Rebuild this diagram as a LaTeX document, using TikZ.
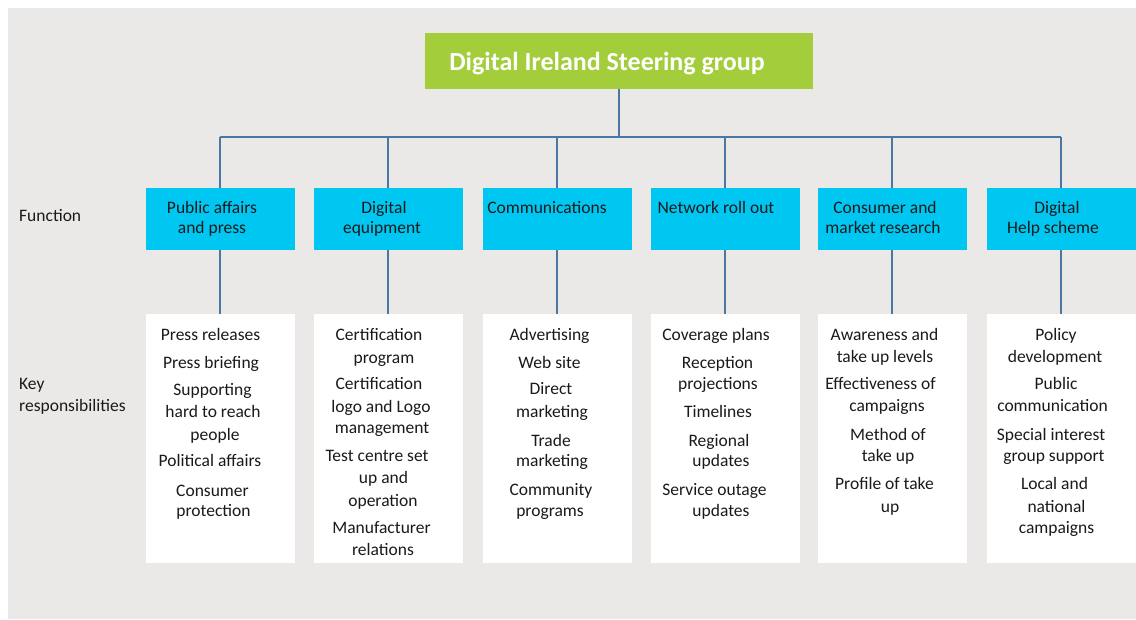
\documentclass[tikz,border=0pt]{standalone}
\usepackage{fontspec}
\setmainfont{Carlito}
\definecolor{bgc}{HTML}{EBE9E7}
\definecolor{greenc}{HTML}{A3CD3A}
\definecolor{cyanc}{HTML}{00C6F2}
\definecolor{linec}{HTML}{4D77A3}
\definecolor{textc}{HTML}{1A1A1A}
\begin{document}
\begin{tikzpicture}[x=1pt,y=-1pt,
  titlebox/.style={fill=greenc, draw=none, minimum width=388pt, minimum height=56pt, inner sep=0pt},
  titletext/.style={font=\bfseries\fontsize{26}{29}\selectfont, text=white, inner sep=0pt},
  fbox/.style={fill=cyanc, draw=none, minimum width=149pt, minimum height=62pt, inner sep=0pt},
  rbox/.style={fill=white, draw=none, minimum width=149pt, minimum height=249pt, inner sep=0pt},
  txt/.style={font=\fontsize{17.5}{20}\selectfont, text=textc, inner sep=0pt, anchor=base},
  conn/.style={draw=linec, line width=2pt}]
\useasboundingbox (0,0) rectangle (1136,619);
\fill[bgc] (8,8) rectangle (1136,619);

% title
\node[titlebox] (t) at (619,61) {};
\node[titletext, anchor=base] (tt) at (607,70) {Digital Ireland Steering group};

% function boxes
\node[fbox] (f1) at (220,219) {};
\node[fbox] (f2) at (388,219) {};
\node[fbox] (f3) at (557,219) {};
\node[fbox] (f4) at (725,219) {};
\node[fbox] (f5) at (892,219) {};
\node[fbox] (f6) at (1061,219) {};

% responsibility boxes
\node[rbox] (r1) at (220,438.5) {};
\node[rbox] (r2) at (388,438.5) {};
\node[rbox] (r3) at (557,438.5) {};
\node[rbox] (r4) at (725,438.5) {};
\node[rbox] (r5) at (892,438.5) {};
\node[rbox] (r6) at (1061,438.5) {};

% connectors
\coordinate (bus) at (619,137);
\draw[conn] (t.south) -- (t.south |- bus);
\draw[conn] (f1.north |- bus) -- (f6.north |- bus);
\foreach \i in {1,...,6}{
  \draw[conn] (f\i.north) -- (f\i.north |- bus);
  \draw[conn] (f\i.south) -- (r\i.north);
}

% side labels
\node[txt, anchor=base west] (lf) at (19,221) {Function};
\node[txt, anchor=base west] (lk1) at (19,389) {Key};
\node[txt, anchor=base west] (lk2) at (19,411) {responsibilities};

% function texts
\foreach \x/\y/\t [count=\i] in {212/207/Public affairs, 212/227/and press,
  384/207/Digital, 382/227/equipment,
  547/207/Communications,
  716/207/Network roll out,
  885/207/Consumer and, 883/227/market research,
  1057/207/Digital, 1053/227/Help scheme}
  \node[txt] (ft\i) at (\x,\y+6.5) {\t};

% responsibilities
\foreach \x/\y/\t [count=\i] in {210.5/334/Press releases, 211/362/Press briefing,
  212.5/389/Supporting, 213/411/hard to reach, 215/434/people,
  210/460/Political affairs, 212.5/490/Consumer, 213.5/510/protection}
  \node[txt] (ra\i) at (\x,\y+6.5) {\t};

\foreach \x/\y/\t [count=\i] in {379/334/Certification, 384/357/program,
  379/383/Certification, 381/406/logo and Logo, 382/427/management,
  377/455/Test centre set, 383.5/477/up and, 383/500/operation,
  381.5/527/Manufacturer, 383/549/relations}
  \node[txt] (rb\i) at (\x,\y+6.5) {\t};

\foreach \x/\y/\t [count=\i] in {549.5/334/Advertising, 549.5/362/Web site,
  551/388/Direct, 552/411/marketing,
  551/440/Trade, 552/460/marketing,
  551/489/Community, 550/510/programs}
  \node[txt] (rc\i) at (\x,\y+6.5) {\t};

\foreach \x/\y/\t [count=\i] in {716/334/Coverage plans,
  717.5/362/Reception, 718/383/projections,
  718/411/Timelines,
  719/440/Regional, 721/460/updates,
  714.5/489/Service outage, 721/510/updates}
  \node[txt] (rd\i) at (\x,\y+6.5) {\t};

\foreach \x/\y/\t [count=\i] in {884.5/334/Awareness and, 885/356/take up levels,
  880.5/383/Effectiveness of, 887/405/campaigns,
  888/434/Method of, 888/455/take up,
  884.5/483/Profile of take, 890/506/up}
  \node[txt] (re\i) at (\x,\y+6.5) {\t};

\foreach \x/\y/\t [count=\i] in {1056/334/Policy, 1055/356/development,
  1056/383/Public, 1052.5/405/communication,
  1051/434/Special interest, 1054/455/group support,
  1054.5/483/Local and, 1056.5/506/national, 1056.5/527/campaigns}
  \node[txt] (rf\i) at (\x,\y+6.5) {\t};
\end{tikzpicture}
\end{document}
